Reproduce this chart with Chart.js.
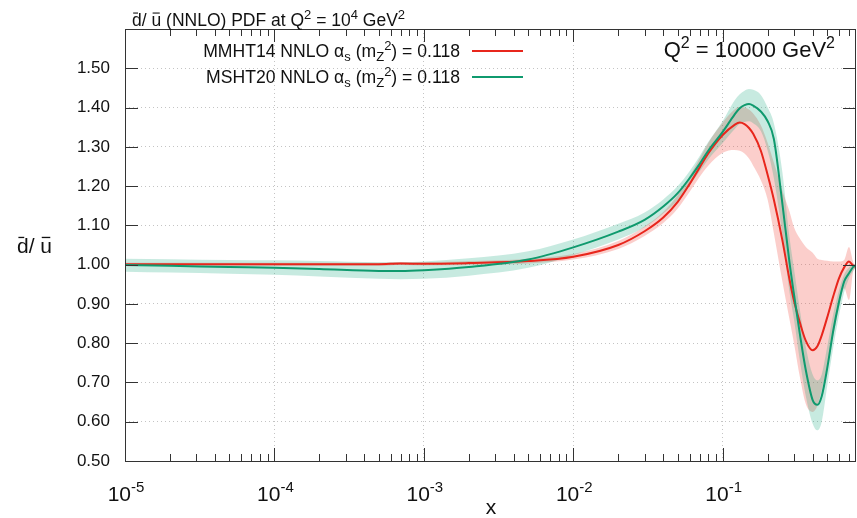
<!DOCTYPE html>
<html>
<head>
<meta charset="utf-8">
<script src="https://cdn.jsdelivr.net/npm/chart.js@4.4.1/dist/chart.umd.min.js"></script>
<style>
  html, body { margin: 0; padding: 0; background: #fff; }
  #wrap { width: 857px; height: 518px; }
</style>
</head>
<body>
<div id="wrap"><canvas id="myChart"></canvas></div>
<script>
// dbar/ubar ratio at Q2 = 10^4 GeV2, MMHT14 vs MSHT20 NNLO

const xValues = [1e-5, 2e-5, 5e-5, 1e-4, 2e-4, 5e-4, 7e-4, 1e-3, 2e-3, 5e-3,
    0.01, 0.02, 0.03, 0.04, 0.05, 0.06, 0.07, 0.08, 0.1, 0.12,
    0.13, 0.14, 0.15, 0.16, 0.18, 0.2, 0.22, 0.25, 0.28, 0.3,
    0.33, 0.36, 0.4, 0.43, 0.46, 0.5, 0.55, 0.6, 0.65, 0.7,
    0.75, 0.78];

// MMHT14 (red)
const mmhtCentral = [1.001, 1.001, 1.001, 1.001, 1.001, 1.001, 1.003, 1.002, 1.004, 1.009,
    1.020, 1.050, 1.085, 1.120, 1.160, 1.205, 1.247, 1.283, 1.330, 1.356,
    1.362, 1.358, 1.348, 1.333, 1.290, 1.228, 1.165, 1.065, 0.962, 0.908,
    0.850, 0.806, 0.782, 0.792, 0.820, 0.865, 0.920, 0.965, 0.993, 1.008,
    0.997, 0.995];
const mmhtLow = [0.997, 0.997, 0.997, 0.997, 0.997, 0.997, 0.999, 0.998, 0.999, 1.003,
    1.013, 1.040, 1.073, 1.106, 1.143, 1.185, 1.223, 1.252, 1.285, 1.292,
    1.290, 1.283, 1.270, 1.252, 1.215, 1.165, 1.080, 0.960, 0.860, 0.800,
    0.710, 0.645, 0.625, 0.640, 0.680, 0.740, 0.820, 0.890, 0.940, 0.910,
    0.985, 0.990];
const mmhtHigh = [1.005, 1.005, 1.005, 1.005, 1.005, 1.005, 1.007, 1.006, 1.009, 1.015,
    1.027, 1.060, 1.097, 1.134, 1.177, 1.225, 1.270, 1.310, 1.362, 1.395,
    1.402, 1.400, 1.395, 1.385, 1.355, 1.310, 1.260, 1.190, 1.135, 1.095,
    1.065, 1.045, 1.030, 1.015, 1.012, 1.010, 1.008, 1.008, 1.012, 1.045,
    1.005, 1.000];

// MSHT20 (green)
const mshtCentral = [0.999, 0.997, 0.994, 0.992, 0.989, 0.984, 0.984, 0.986, 0.994, 1.013,
    1.044, 1.084, 1.114, 1.148, 1.182, 1.220, 1.256, 1.290, 1.338, 1.382,
    1.398, 1.406, 1.409, 1.405, 1.390, 1.365, 1.320, 1.160, 1.005, 0.924,
    0.818, 0.731, 0.655, 0.643, 0.665, 0.735, 0.833, 0.905, 0.957, 0.978,
    0.995, 0.998];
const mshtLow = [0.982, 0.980, 0.977, 0.974, 0.970, 0.964, 0.963, 0.964, 0.972, 0.992,
    1.024, 1.064, 1.095, 1.130, 1.164, 1.202, 1.237, 1.268, 1.310, 1.345,
    1.358, 1.363, 1.365, 1.360, 1.340, 1.290, 1.220, 1.080, 0.930, 0.860,
    0.750, 0.665, 0.595, 0.578, 0.600, 0.690, 0.790, 0.870, 0.930, 0.965,
    0.985, 0.992];
const mshtHigh = [1.015, 1.014, 1.012, 1.011, 1.009, 1.006, 1.006, 1.008, 1.016, 1.034,
    1.064, 1.104, 1.133, 1.166, 1.200, 1.238, 1.276, 1.312, 1.366, 1.418,
    1.434, 1.443, 1.447, 1.445, 1.432, 1.400, 1.360, 1.240, 1.070, 0.990,
    0.880, 0.790, 0.720, 0.705, 0.720, 0.790, 0.875, 0.935, 0.975, 0.993,
    1.000, 1.003];

const xDecades = [1e-5, 1e-4, 1e-3, 1e-2, 1e-1];
const xDecadeExp = ['-5', '-4', '-3', '-2', '-1'];

const FONT = '"Liberation Sans", Arial, sans-serif';
const RED = '#e8261c';
const GREEN = '#0f9a6e';

const pts = ys => xValues.map((x, i) => ({ x: x, y: ys[i] }));

function isDecade(v) {
    const l = Math.log10(v);
    return Math.abs(l - Math.round(l)) < 1e-6;
}

// draws text made of pieces: {t, sup, sub, bar}
function rich(ctx, parts, x, y, size, align) {
    const small = Math.round(size * 0.72);
    let w = 0;
    parts.forEach(p => {
        ctx.font = (p.sup || p.sub ? small : size) + 'px ' + FONT;
        p.w = ctx.measureText(p.t).width;
        w += p.w;
    });
    let cx = align === 'right' ? x - w : align === 'center' ? x - w / 2 : x;
    ctx.textAlign = 'left';
    ctx.textBaseline = 'alphabetic';
    parts.forEach(p => {
        ctx.font = (p.sup || p.sub ? small : size) + 'px ' + FONT;
        let dy = p.sup ? -size * 0.42 : p.sub ? size * 0.22 : 0;
        ctx.fillText(p.t, cx, y + dy);
        if (p.bar) {
            const by = y - size * 0.74;
            ctx.save();
            ctx.lineWidth = Math.max(1, size / 16);
            ctx.strokeStyle = ctx.fillStyle;
            ctx.beginPath();
            ctx.moveTo(cx + p.w * 0.12, by);
            ctx.lineTo(cx + p.w * (p.t === 'd' ? 0.62 : 0.85), by);
            ctx.stroke();
            ctx.restore();
        }
        cx += p.w;
    });
    return w;
}

const decor = {
    id: 'decor',
    afterDraw(chart) {
        const ctx = chart.ctx;
        const a = chart.chartArea;
        const xs = chart.scales.x;
        const ys = chart.scales.y;
        ctx.save();
        ctx.strokeStyle = '#333';
        ctx.lineWidth = 1;

        // inward tick marks, mirrored
        ctx.beginPath();
        xs.ticks.forEach(t => {
            const v = t.value;
            const sig = v / Math.pow(10, Math.floor(Math.log10(v) + 1e-9));
            if (Math.abs(sig - Math.round(sig)) > 1e-6) return;
            const px = Math.round(xs.getPixelForValue(v)) + 0.5;
            const len = isDecade(v) ? 13 : 7;
            ctx.moveTo(px, a.bottom); ctx.lineTo(px, a.bottom - len);
            ctx.moveTo(px, a.top); ctx.lineTo(px, a.top + len);
        });
        ys.ticks.forEach(t => {
            const py = Math.round(ys.getPixelForValue(t.value)) + 0.5;
            ctx.moveTo(a.left, py); ctx.lineTo(a.left + 13, py);
            ctx.moveTo(a.right, py); ctx.lineTo(a.right - 13, py);
        });
        ctx.stroke();

        // frame
        ctx.strokeRect(Math.round(a.left) + 0.5, Math.round(a.top) + 0.5,
            Math.round(a.right - a.left) - 1, Math.round(a.bottom - a.top));

        ctx.fillStyle = '#111';
        // x tick labels 10^n
        xDecades.forEach((v, i) => {
            const px = xs.getPixelForValue(v);
            rich(ctx, [{ t: '10' }, { t: xDecadeExp[i], sup: true }], px + 1, 501, 21, 'center');
        });

        // axis titles
        rich(ctx, [{ t: 'x' }], 491, 514, 21, 'center');
        rich(ctx, [{ t: 'd', bar: true }, { t: '/ ' }, { t: 'u', bar: true }], 17, 253, 21, 'left');

        // title above the frame
        rich(ctx, [{ t: 'd', bar: true }, { t: '/ ' }, { t: 'u', bar: true },
            { t: ' (NNLO) PDF at Q' }, { t: '2', sup: true }, { t: ' = 10' }, { t: '4', sup: true },
            { t: ' GeV' }, { t: '2', sup: true }], 132, 26, 17.5, 'left');

        // scale label inside
        rich(ctx, [{ t: 'Q' }, { t: '2', sup: true }, { t: ' = 10000 GeV' }, { t: '2', sup: true }],
            835, 57, 22, 'right');

        // legend
        const entries = [['MMHT14', RED, 57], ['MSHT20', GREEN, 83]];
        entries.forEach(e => {
            ctx.fillStyle = '#111';
            rich(ctx, [{ t: e[0] + ' NNLO \u03b1' }, { t: 's', sub: true }, { t: ' (m' },
                { t: 'Z', sub: true }, { t: '2', sup: true }, { t: ') = 0.118' }], 460, e[2], 17.6, 'right');
            ctx.strokeStyle = e[1];
            ctx.lineWidth = 2;
            ctx.beginPath();
            ctx.moveTo(472, e[2] - 6);
            ctx.lineTo(523, e[2] - 6);
            ctx.stroke();
        });
        ctx.restore();
    }
};

const band = (ys, color, fill) => ({
    data: pts(ys),
    borderWidth: 0,
    pointRadius: 0,
    fill: fill ? '+1' : false,
    backgroundColor: color,
    cubicInterpolationMode: 'monotone'
});

const line = (ys, color) => ({
    data: pts(ys),
    borderColor: color,
    borderWidth: 2,
    pointRadius: 0,
    fill: false,
    cubicInterpolationMode: 'monotone'
});

const data = {
    datasets: [
        Object.assign(line(mshtCentral, GREEN), { label: 'MSHT20 NNLO' }),
        Object.assign(line(mmhtCentral, RED), { label: 'MMHT14 NNLO' }),
        band(mshtHigh, 'rgba(0,158,115,0.22)', true),
        band(mshtLow, 'rgba(0,0,0,0)', false),
        band(mmhtHigh, 'rgba(240,80,70,0.28)', true),
        band(mmhtLow, 'rgba(0,0,0,0)', false)
    ]
};

const config = {
    type: 'line',
    data: data,
    options: {
        responsive: true,
        maintainAspectRatio: false,
        animation: false,
        events: [],
        layout: { padding: { left: 0, right: 1, top: 29, bottom: 0 } },
        plugins: {
            legend: { display: false },
            tooltip: { enabled: false },
            filler: { drawTime: 'beforeDatasetsDraw' }
        },
        scales: {
            x: {
                type: 'logarithmic',
                min: 1e-5,
                max: 0.78,
                ticks: { display: false },
                grid: {
                    drawTicks: false,
                    color: c => (c.tick && isDecade(c.tick.value) && c.tick.value > 1.5e-5) ? '#c4c4c4' : 'rgba(0,0,0,0)'
                },
                border: { display: false, dash: [1, 3] },
                afterFit: s => { s.height = 57; }
            },
            y: {
                min: 0.5,
                max: 1.6,
                ticks: {
                    stepSize: 0.1,
                    padding: 15,
                    color: '#111',
                    font: { family: FONT, size: 17 },
                    callback: v => v > 1.55 ? '' : Number(v).toFixed(2)
                },
                grid: {
                    drawTicks: false,
                    color: c => (c.tick && c.tick.value > 0.55 && c.tick.value < 1.55) ? '#c4c4c4' : 'rgba(0,0,0,0)'
                },
                border: { display: false, dash: [1, 3] },
                afterFit: s => { s.width = 125; }
            }
        }
    },
    plugins: [decor]
};

const myChart = new Chart(document.getElementById('myChart'), config);
</script>
</body>
</html>
